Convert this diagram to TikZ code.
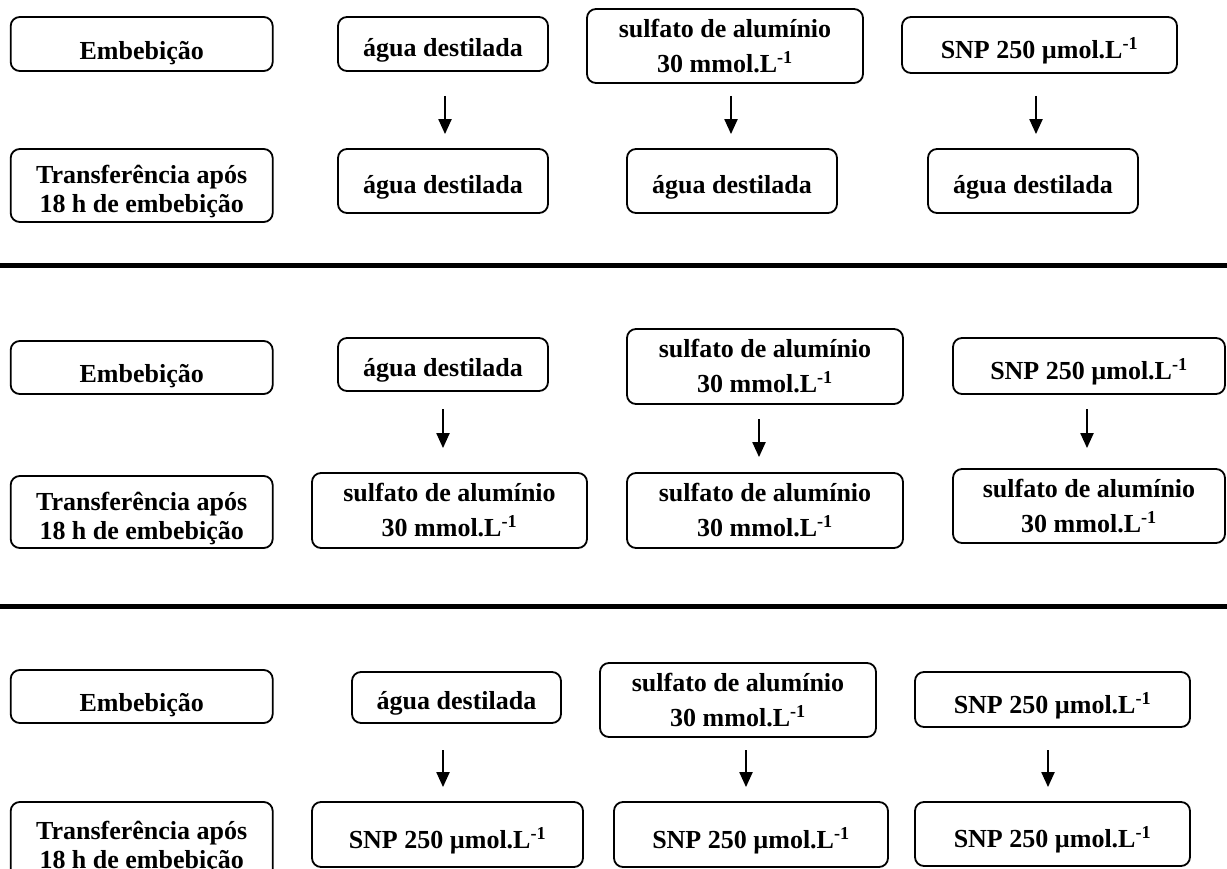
\documentclass[tikz,border=0pt]{standalone}
\usepackage{fontspec}
\setmainfont{Liberation Serif}
\usetikzlibrary{arrows.meta}
\tikzset{
  bx/.style={draw, line width=1.8pt, rounded corners=9pt, inner sep=0pt, align=center,
    font=\fontsize{26}{35}\selectfont\bfseries},
  arr/.style={line width=2.1pt, -{Triangle[width=13pt,length=15pt]}, shorten >=14pt},
  sep/.style={line width=5pt}
}
\newcommand{\bxn}[7][]{\node[bx,#1, minimum width={(#5-#3)*1pt}, minimum height={(#6-#4)*1pt}] (#2) at ({(#3+#5)/2},{-(#4+#6)/2}) {#7};}
\newcommand{\low}[2][6pt]{\raisebox{-#1}[\height][\depth]{#2}}
\newcommand{\sul}{sulfato de alumínio\\30 mmol.L\textsuperscript{-1}}
\newcommand{\snp}{\low[6pt]{SNP 250 µmol.L\textsuperscript{-1}}}
\newcommand{\agua}{\low[6pt]{água destilada}}
\newcommand{\emb}{\low[9pt]{Embebição}}
\newcommand{\tra}{\fontsize{26}{29}\selectfont\low[7pt]{\begin{tabular}{@{}c@{}}Transferência após\\18 h de embebição\end{tabular}}}
\begin{document}
\begin{tikzpicture}[x=1pt,y=1pt]
\useasboundingbox (0,0) rectangle (1227,-869);
\clip (0,0) rectangle (1227,-869);
% ---- section 1
\bxn{s1t0}{10.7}{17}{272.7}{71}{\emb}
\bxn{s1t1}{338}{17}{548}{71}{\agua}
\bxn{s1t2}{587}{9}{863}{83}{\sul}
\bxn{s1t3}{902}{17}{1177}{73}{\snp}
\bxn{s1b0}{10.7}{149}{272.7}{222}{\tra}
\bxn{s1b1}{338}{149}{548}{213}{\agua}
\bxn{s1b2}{627}{149}{837}{213}{\agua}
\bxn{s1b3}{928}{149}{1138}{213}{\agua}
\coordinate (s1a1) at (445,-96);
\coordinate (s1a2) at (731,-96);
\coordinate (s1a3) at (1036,-96);
\draw[arr] (s1a1) -- (s1a1 |- s1b1.north);
\draw[arr] (s1a2) -- (s1a2 |- s1b2.north);
\draw[arr] (s1a3) -- (s1a3 |- s1b3.north);
\coordinate (sepA1) at (0,-265.5);
\coordinate (sepA2) at (1227,-265.5);
\draw[sep] (sepA1) -- (sepA2);
% ---- section 2
\bxn{s2t0}{10.7}{341}{272.7}{394}{\emb}
\bxn{s2t1}{338}{338}{548}{391}{\agua}
\bxn{s2t2}{627}{329}{903}{404}{\sul}
\bxn{s2t3}{953}{338}{1225}{394}{\snp}
\bxn{s2b0}{10.7}{476}{272.7}{548}{\tra}
\bxn{s2b1}{312}{473}{587}{548}{\sul}
\bxn{s2b2}{627}{473}{903}{548}{\sul}
\bxn{s2b3}{953}{469}{1225}{543}{\sul}
\coordinate (s2a1) at (443,-409);
\coordinate (s2a2) at (759,-419);
\coordinate (s2a3) at (1087,-409);
\draw[arr,shorten >=24pt] (s2a1) -- (s2a1 |- s2b1.north);
\draw[arr,shorten >=15pt] (s2a2) -- (s2a2 |- s2b2.north);
\draw[arr,shorten >=20pt] (s2a3) -- (s2a3 |- s2b3.north);
\coordinate (sepB1) at (0,-606);
\coordinate (sepB2) at (1227,-606);
\draw[sep] (sepB1) -- (sepB2);
% ---- section 3
\bxn{s3t0}{10.7}{670}{272.7}{723}{\emb}
\bxn{s3t1}{352}{672}{561}{723}{\agua}
\bxn{s3t2}{600}{663}{876}{737}{\sul}
\bxn{s3t3}{915}{672}{1190}{727}{\snp}
\bxn{s3b0}{10.7}{802}{272.7}{880}{\tra}
\bxn{s3b1}{312}{802}{583}{867}{\snp}
\bxn{s3b2}{614}{802}{888}{867}{\snp}
\bxn{s3b3}{915}{802}{1190}{866}{\snp}
\coordinate (s3a1) at (443,-750);
\coordinate (s3a2) at (746,-750);
\coordinate (s3a3) at (1048,-750);
\draw[arr] (s3a1) -- (s3a1 |- s3b1.north);
\draw[arr] (s3a2) -- (s3a2 |- s3b2.north);
\draw[arr] (s3a3) -- (s3a3 |- s3b3.north);
\end{tikzpicture}
\end{document}
